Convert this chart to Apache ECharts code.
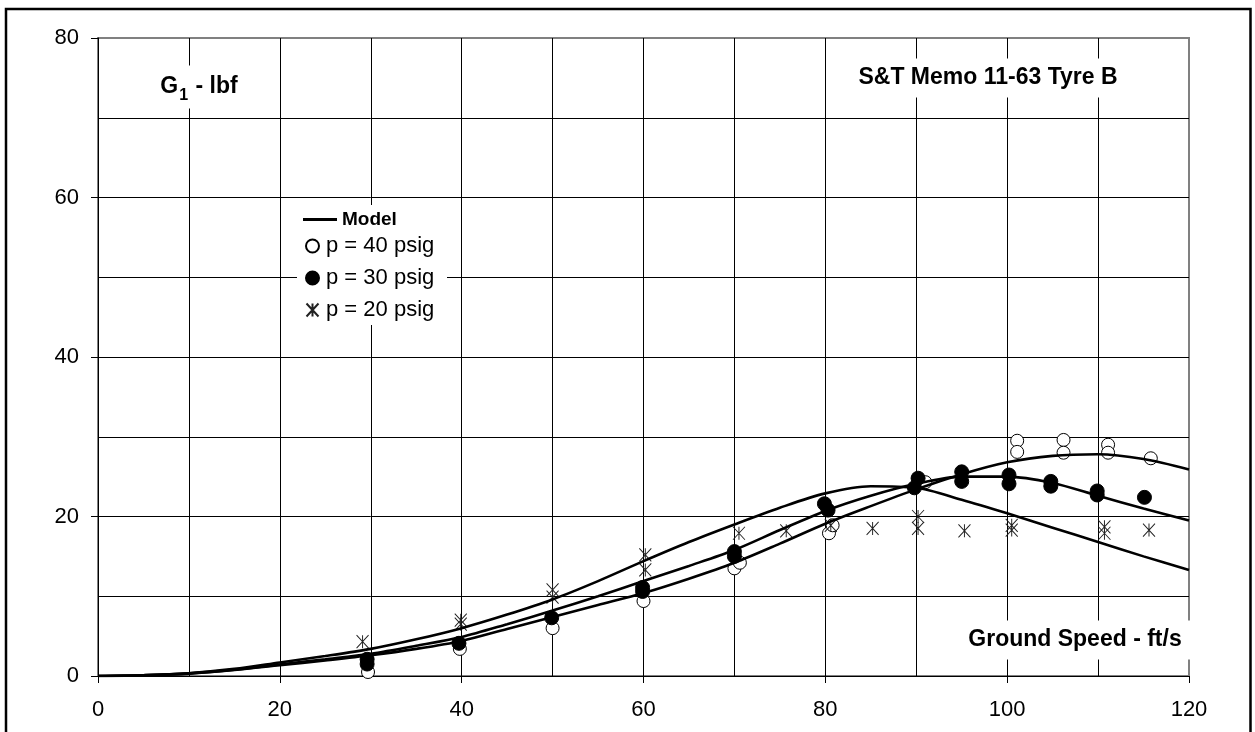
<!DOCTYPE html>
<html>
<head>
<meta charset="utf-8">
<script src="https://cdn.jsdelivr.net/npm/echarts@6/dist/echarts.min.js"></script>
<style>
  html, body { margin: 0; padding: 0; background: #fff; }
  #chart { width: 1255px; height: 732px; }
</style>
</head>
<body>
<div id="chart"></div>
<script>
// Axis ticks (labelled every 20, gridlines every 10)
const xTickLabels = [0, 20, 40, 60, 80, 100, 120];
const yTickLabels = [0, 20, 40, 60, 80];

// Measured side force G1 (lbf) against ground speed (ft/s)
const speed40 = [29.7, 39.8, 50.0, 60.0, 70.0, 70.6, 80.4, 80.8, 91.0, 101.1, 101.1, 106.2, 106.2, 111.1, 111.1, 115.8];
const force40 = [0.5, 3.4, 6.0, 9.4, 13.5, 14.2, 17.9, 18.9, 24.3, 29.5, 28.1, 29.6, 28.0, 29.0, 28.0, 27.3];

const speed30 = [29.6, 29.6, 39.7, 49.9, 59.9, 59.9, 70.0, 70.0, 79.9, 80.3, 90.2, 89.8, 95.0, 95.0, 100.2, 100.2, 104.8, 104.8, 109.9, 109.9, 115.1];
const force30 = [2.1, 1.5, 4.1, 7.3, 11.1, 10.6, 15.6, 15.0, 21.6, 20.8, 24.8, 23.6, 25.6, 24.4, 25.2, 24.1, 24.4, 23.8, 23.2, 22.7, 22.4];

const speed20 = [29.1, 39.9, 39.9, 50.0, 50.0, 60.2, 60.2, 70.5, 75.7, 80.6, 85.2, 90.2, 90.2, 95.3, 100.5, 100.5, 110.7, 110.7, 115.6];
const force20 = [4.3, 7.0, 6.5, 10.8, 9.9, 15.2, 13.3, 17.9, 18.2, 18.9, 18.5, 20.0, 18.5, 18.2, 18.9, 18.3, 18.7, 17.9, 18.3];

// Model curves
const modelSpeed = [0, 5, 10, 15, 20, 25, 30, 35, 40, 45, 50, 55, 60, 65, 70, 75, 80, 85, 90, 95, 100, 105, 110, 115, 120];
const model20 = [0, 0.1, 0.35, 0.9, 1.7, 2.5, 3.4, 4.6, 6.0, 7.7, 9.6, 11.9, 14.4, 16.8, 19.0, 21.1, 22.9, 23.8, 23.6, 22.1, 20.4, 18.6, 16.8, 15.0, 13.3];
const model30 = [0, 0.1, 0.33, 0.8, 1.45, 2.1, 2.8, 3.8, 4.9, 6.5, 8.2, 10.0, 11.9, 13.8, 15.8, 18.3, 20.7, 22.6, 24.1, 25.0, 25.0, 24.2, 22.6, 21.0, 19.5];
const model40 = [0, 0.1, 0.3, 0.75, 1.35, 1.95, 2.6, 3.4, 4.4, 5.9, 7.4, 8.9, 10.4, 12.2, 14.2, 16.6, 19.1, 21.3, 23.4, 25.3, 26.8, 27.6, 27.8, 27.2, 25.9];

const FONT = '"Liberation Sans", Arial, sans-serif';
const pairs = (xs, ys) => xs.map((x, i) => [x, ys[i]]);
const STAR = 'path://M0,0L12,13M12,0L0,13M6,0L6,13';

const axisCommon = (ticks) => ({
  type: 'value',
  min: ticks[0],
  max: ticks[ticks.length - 1],
  interval: ticks[1] - ticks[0],
  axisLine: { show: true, onZero: false, lineStyle: { color: '#000', width: 1 } },
  axisTick: { show: true, inside: false, length: 7, lineStyle: { color: '#000', width: 1 } },
  axisLabel: { color: '#000', fontSize: 22, fontFamily: FONT },
  splitLine: { show: true, showMaxLine: false, lineStyle: { color: '#000', width: 1 } },
  minorTick: { show: false, splitNumber: 2 },
  minorSplitLine: { show: true, lineStyle: { color: '#000', width: 1 } }
});

const chart = echarts.init(document.getElementById('chart'), null, { renderer: 'canvas' });

const xAxis = axisCommon(xTickLabels);
xAxis.axisLabel.margin = 23;
const yAxis = axisCommon(yTickLabels);
yAxis.axisLabel.margin = 19;

const modelLine = (data) => ({
  type: 'line',
  name: 'Model',
  data: pairs(modelSpeed, data),
  smooth: 0.3,
  symbol: 'none',
  color: '#000',
  lineStyle: { color: '#000', width: 2.6 },
  z: 3
});

chart.setOption({
  animation: false,
  backgroundColor: '#fff',
  grid: {
    left: 98, right: 66, top: 38, bottom: 56,
    show: true, borderColor: '#808080', borderWidth: 2, backgroundColor: 'transparent'
  },
  xAxis: xAxis,
  yAxis: yAxis,
  legend: [
    {
      data: [{ name: 'Model', icon: 'rect', textStyle: { fontWeight: 'bold', fontSize: 19 } }],
      left: 303, top: 210, padding: 0,
      itemWidth: 34, itemHeight: 3,
      selectedMode: false,
      textStyle: { color: '#000', fontFamily: FONT },
      z: 6
    },
    {
      data: ['p = 40 psig', 'p = 30 psig', 'p = 20 psig'],
      orient: 'vertical',
      left: 305, top: 235, padding: 0,
      itemWidth: 13, itemHeight: 13, itemGap: 10,
      selectedMode: false,
      textStyle: { color: '#000', fontSize: 22, fontFamily: FONT, padding: [0, 0, 0, 2] },
      z: 6
    }
  ],
  graphic: [
    {
      type: 'rect', z: 1, silent: true,
      shape: { x: 297, y: 205, width: 150, height: 120 },
      style: { fill: '#fff' }
    },
    {
      type: 'text', z: 5, silent: true,
      x: 199, y: 87,
      style: {
        text: '{b|G}{s|1}{b| - lbf}',
        align: 'center', verticalAlign: 'middle',
        backgroundColor: '#fff', padding: [10, 10],
        rich: {
          b: { fontSize: 23, fontWeight: 'bold', fontFamily: FONT, fill: '#000', lineHeight: 23 },
          s: { fontSize: 16, fontWeight: 'bold', fontFamily: FONT, fill: '#000', lineHeight: 16, verticalAlign: 'top', padding: [12, 1, 0, 1] }
        }
      }
    },
    {
      type: 'text', z: 5, silent: true,
      x: 988, y: 78,
      style: {
        text: 'S&T Memo 11-63 Tyre B',
        align: 'center', verticalAlign: 'middle',
        font: 'bold 23px ' + FONT, fill: '#000',
        backgroundColor: '#fff', padding: [8, 10]
      }
    },
    {
      type: 'text', z: 5, silent: true,
      x: 1075, y: 640,
      style: {
        text: 'Ground Speed - ft/s',
        align: 'center', verticalAlign: 'middle',
        font: 'bold 23px ' + FONT, fill: '#000',
        backgroundColor: '#fff', padding: [8, 10]
      }
    },
    {
      type: 'rect', z: 10, silent: true,
      shape: { x: 6, y: 9, width: 1244.5, height: 740 },
      style: { fill: 'none', stroke: '#000', lineWidth: 2.5 }
    }
  ],
  series: [
    {
      type: 'scatter', name: 'p = 40 psig',
      data: pairs(speed40, force40),
      symbol: 'circle', symbolSize: 13,
      itemStyle: { color: '#fff', borderColor: '#000', borderWidth: 1, opacity: 1 },
      z: 2
    },
    {
      type: 'scatter', name: 'p = 30 psig',
      data: pairs(speed30, force30),
      symbol: 'circle', symbolSize: 14,
      itemStyle: { color: '#000', borderColor: '#000', borderWidth: 1, opacity: 1 },
      z: 2
    },
    {
      type: 'scatter', name: 'p = 20 psig',
      data: pairs(speed20, force20),
      symbol: STAR, symbolSize: [12, 13],
      itemStyle: { color: 'rgba(0,0,0,0)', borderColor: '#222', borderWidth: 1, opacity: 1 },
      z: 2
    },
    modelLine(model20),
    modelLine(model30),
    modelLine(model40)
  ]
});
</script>
</body>
</html>
